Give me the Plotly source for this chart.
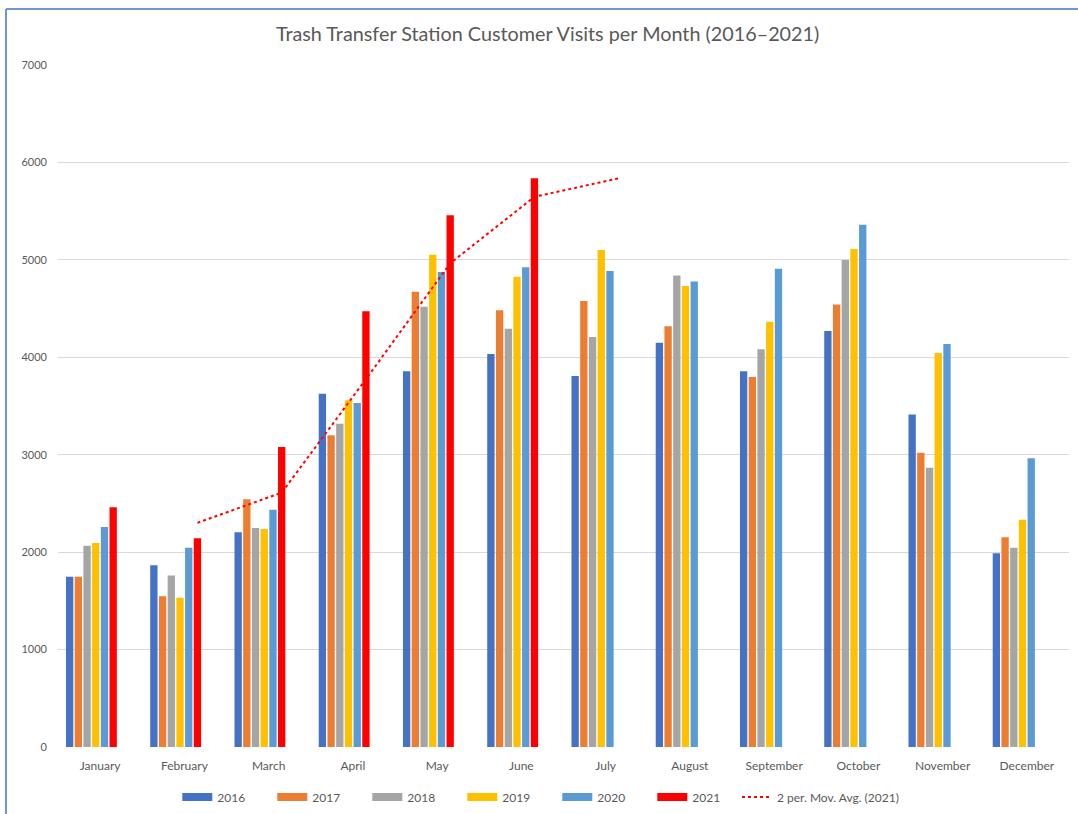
import plotly.graph_objects as go
import pandas as pd

months = ["January", "February", "March", "April", "May", "June",
          "July", "August", "September", "October", "November", "December"]

v2016 = [1748, 1865, 2203, 3626, 3856, 4034, 3808, 4150, 3856, 4270, 3414, 1988]
v2017 = [1748, 1547, 2542, 3199, 4673, 4482, 4578, 4318, 3798, 4543, 3021, 2152]
v2018 = [2066, 1759, 2248, 3319, 4519, 4293, 4208, 4839, 4082, 4998, 2867, 2046]
v2019 = [2094, 1533, 2237, 3558, 5053, 4827, 5101, 4731, 4365, 5111, 4044, 2333]
v2020 = [2258, 2046, 2436, 3531, 4875, 4923, 4886, 4779, 4910, 5360, 4136, 2963]
v2021 = [2460, 2142, 3079, 4472, 5457, 5837, None, None, None, None, None, None]

series_names = ["2016", "2017", "2018", "2019", "2020", "2021"]
series_vals = [v2016, v2017, v2018, v2019, v2020, v2021]
colors = ["#4472C4", "#ED7D31", "#A5A5A5", "#FFC000", "#5B9BD5", "#FF0000"]

y_ticks = [0, 1000, 2000, 3000, 4000, 5000, 6000, 7000]

# 2-period moving average of 2021 (Excel trendline; blanks skipped)
s2021 = pd.Series(v2021[:7], dtype="float")
ma2021 = s2021.rolling(2, min_periods=1).mean().tolist()
ma_x_idx = list(range(1, 7))
ma_y = ma2021[1:7]

BARGAP = 0.173
NSLOTS = 8
TXT = "#595959"
FONT = "Lato, 'Open Sans', sans-serif"

fig = go.Figure()
for name, vals, col in zip(series_names, series_vals, colors):
    fig.add_trace(go.Bar(x=months, y=vals, name=name, marker_color=col,
                         marker_line_width=0, showlegend=False))
# two empty series occupying slots (as in the source workbook)
for k in range(2):
    fig.add_trace(go.Bar(x=months, y=[None] * 12, showlegend=False,
                         hoverinfo="skip"))

# moving average line positioned at the 2021 bar centres
slot_w = (1 - BARGAP) / NSLOTS
offset = -(1 - BARGAP) / 2 + 5.5 * slot_w
fig.add_trace(go.Scatter(x=[i + offset for i in ma_x_idx], y=ma_y, xaxis="x2",
                         mode="lines", line=dict(color="#FF0000", width=2, dash="dot"),
                         showlegend=False))

# legend proxies
for name, col in zip(series_names, colors):
    fig.add_trace(go.Scatter(x=[None], y=[None], mode="lines", name=name,
                             line=dict(color=col, width=8), legend="legend"))
fig.add_trace(go.Scatter(x=[None], y=[None], mode="lines", name="2 per. Mov. Avg. (2021)",
                         line=dict(color="#FF0000", width=2, dash="dot"), legend="legend2"))

LEG_Y = 1 - 797 / 814

fig.update_layout(
    width=1078, height=814,
    margin=dict(l=58, r=9, t=65, b=67),
    paper_bgcolor="white", plot_bgcolor="white",
    barmode="group", bargap=BARGAP, bargroupgap=0.16,
    font=dict(family=FONT, color=TXT, size=12),
    title=dict(text="Trash Transfer Station Customer Visits per Month (2016–2021)",
               x=0.508, xref="container", xanchor="center",
               y=1 - 34 / 814, yref="container", yanchor="middle",
               font=dict(size=19.8, color=TXT, family=FONT)),
    xaxis=dict(type="category", showgrid=False, showline=False, ticks="",
               ticklabelstandoff=10, automargin=False,
               tickfont=dict(size=12, color=TXT), range=[-0.5, 11.5]),
    xaxis2=dict(overlaying="x", range=[-0.5, 11.5], visible=False),
    yaxis=dict(range=[0, 7000], tickvals=y_ticks, showgrid=True, gridcolor="#D9D9D9",
               gridwidth=1, zeroline=False, showline=False, ticks="", automargin=False,
               ticklabelstandoff=10, tickfont=dict(size=11, color=TXT)),
    legend=dict(orientation="h", x=0.118, xanchor="left", y=LEG_Y, yref="container",
                yanchor="middle",
                font=dict(size=12, color=TXT), entrywidth=50, entrywidthmode="pixels",
                bgcolor="rgba(0,0,0,0)"),
    legend2=dict(orientation="h", x=0.6716, xanchor="left", y=LEG_Y, yref="container",
                 yanchor="middle",
                 font=dict(size=12, color=TXT), bgcolor="rgba(0,0,0,0)"),
    shapes=[
        dict(type="line", xref="paper", yref="paper", x0=-52 / 1011, x1=1.05,
             y0=1 + 56 / 682, y1=1 + 56 / 682, line=dict(color="#4472C4", width=1.5)),
        dict(type="line", xref="paper", yref="paper", x0=-52 / 1011, x1=-52 / 1011,
             y0=1 + 56 / 682, y1=-0.2, line=dict(color="#4472C4", width=1.5)),
    ],
)

fig.write_html("out.html", config={"displayModeBar": False},
               post_script="document.body.style.margin='0';")
